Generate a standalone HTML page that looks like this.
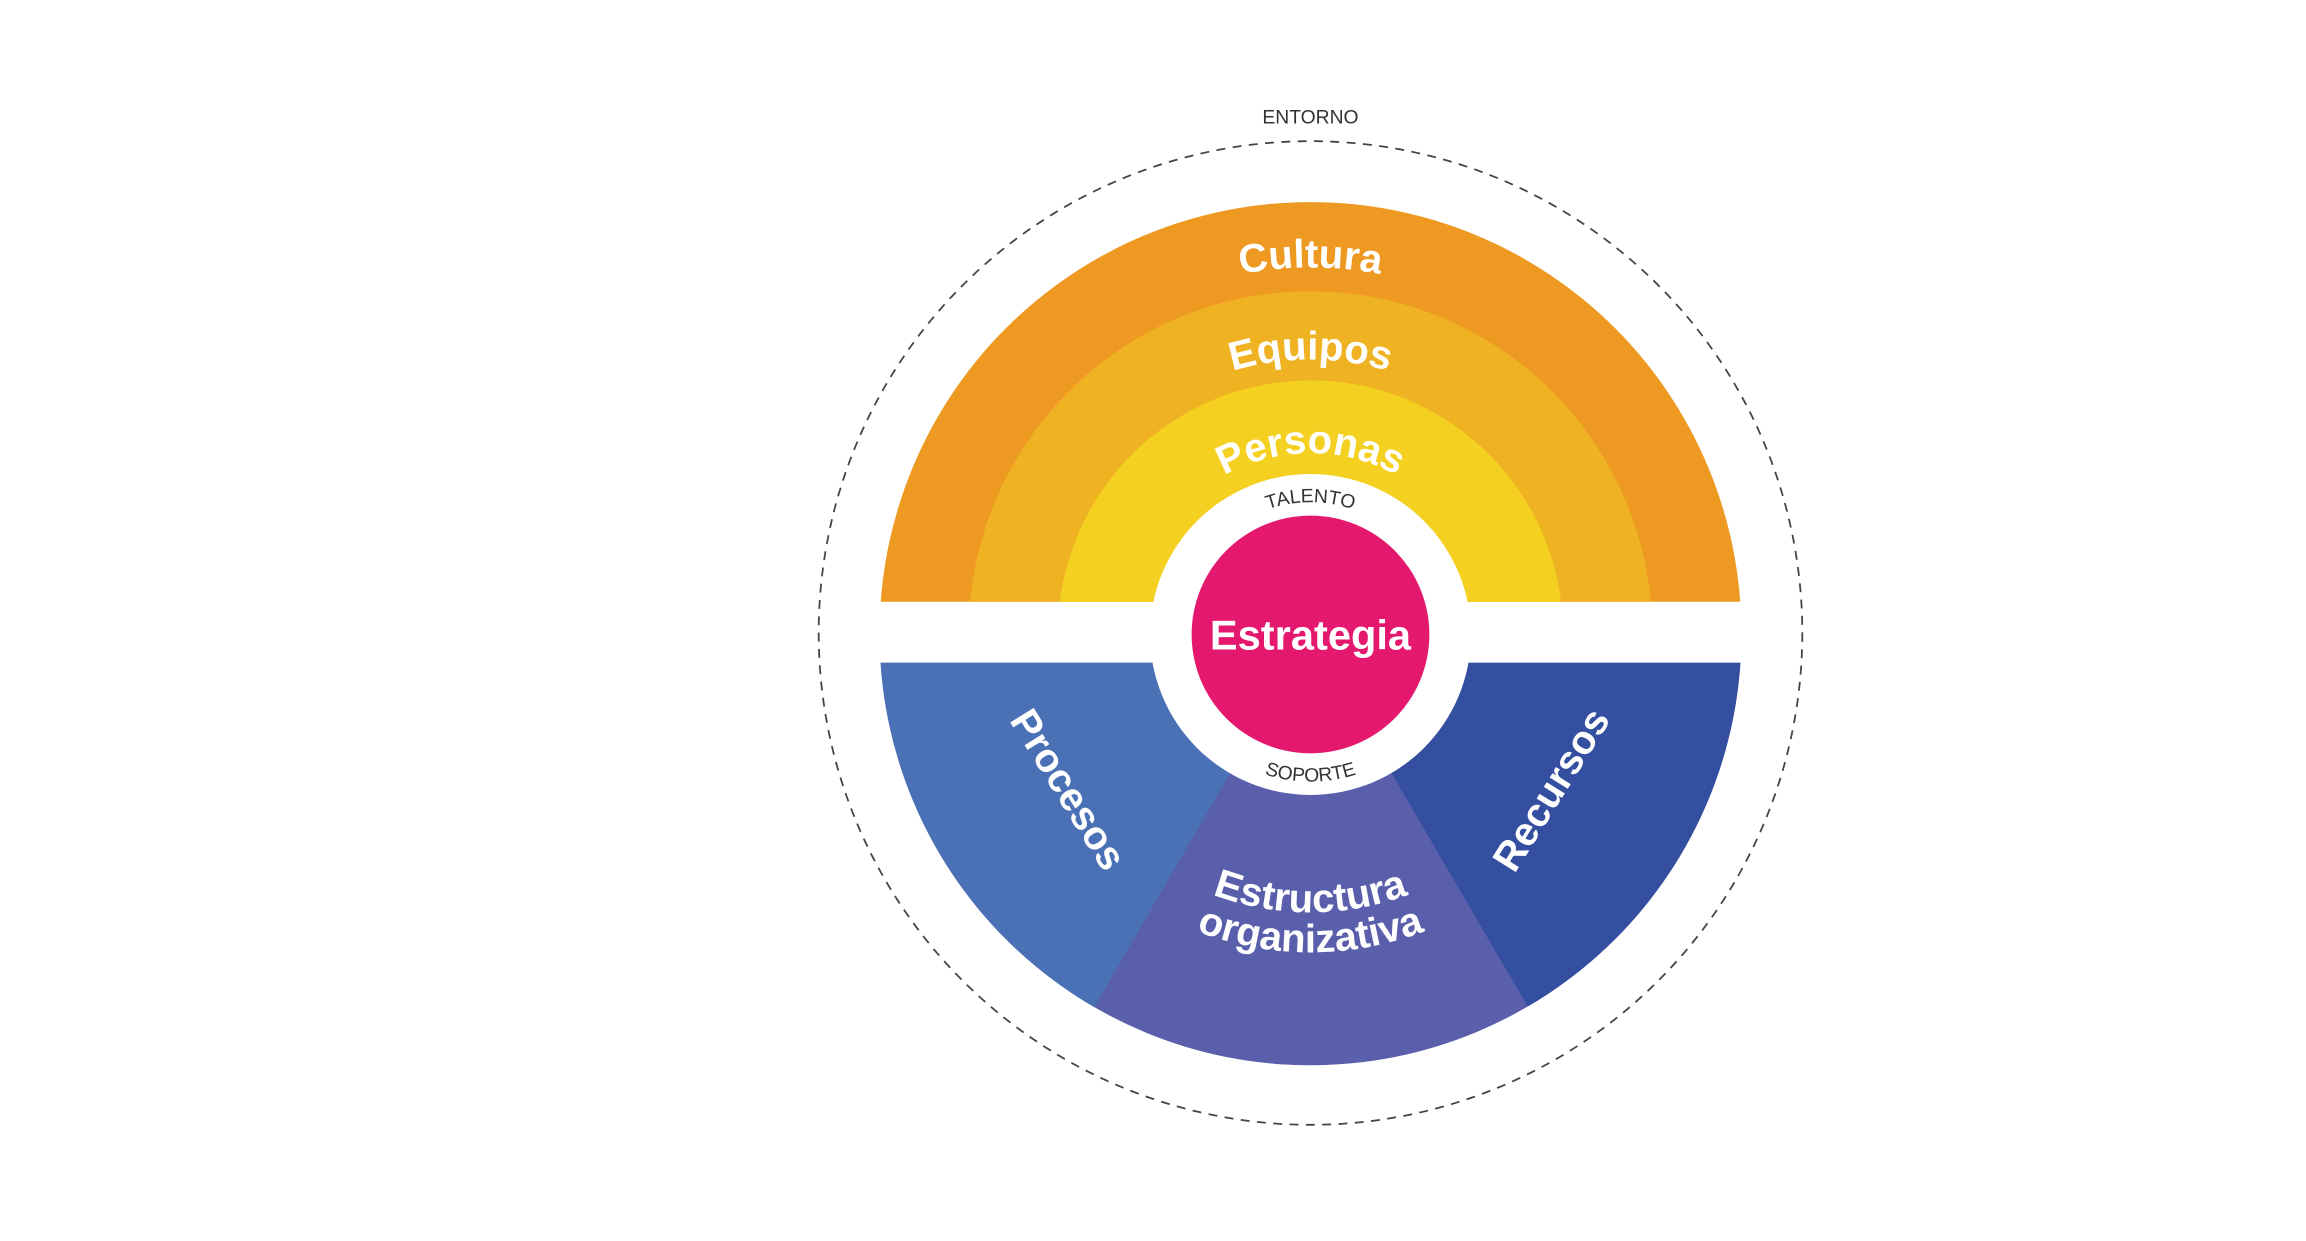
<!DOCTYPE html>
<html><head><meta charset="utf-8"><style>
html,body{margin:0;padding:0;background:#fff;overflow:hidden;}
svg{display:block;}
text{font-family:"Liberation Sans",sans-serif;}
</style></head><body>
<svg width="2306" height="1241" viewBox="0 0 1552 835.2" preserveAspectRatio="none" xmlns="http://www.w3.org/2000/svg">
<defs>
<clipPath id="top"><rect x="0" y="0" width="1552" height="405"/></clipPath>
<clipPath id="bot"><rect x="0" y="446" width="1552" height="400"/></clipPath>
<clipPath id="circ"><circle cx="882" cy="427" r="290"/></clipPath>
<path id="aC" d="M636,426 A246,246 0 0 1 1128,426"/>
<path id="aE" d="M698,426 A184,184 0 0 1 1066,426"/>
<path id="aP" d="M761,426 A121,121 0 0 1 1003,426"/>
<path id="aT" d="M794,426 A88,88 0 0 1 970,426"/>
<path id="aS" d="M782,426 A100,100 0 0 0 982,426"/>
<path id="aEs" d="M694,426 A188,188 0 0 0 1070,426"/>
<path id="aOr" d="M667,426 A215,215 0 0 0 1097,426"/>
</defs>
<rect width="1552" height="835.2" fill="#fff"/>
<circle cx="882" cy="426" r="331" fill="none" stroke="#444" stroke-width="1.2" stroke-dasharray="6,5"/>
<text x="882" y="83" font-size="13" fill="#333" text-anchor="middle">ENTORNO</text>
<g clip-path="url(#top)">
<circle cx="882" cy="426" r="290" fill="#ee9a22"/>
<circle cx="882" cy="426" r="230" fill="#efb223"/>
<circle cx="882" cy="426" r="170" fill="#f4d020"/>
</g>
<g clip-path="url(#bot)">
<g clip-path="url(#circ)">
<circle cx="882" cy="427" r="290" fill="#5a5fac"/>
<polygon points="882,427 592,927 0,927 0,427" fill="#4a70b5"/>
<polygon points="882,427 1174,927 1552,927 1552,427" fill="#354fa0"/>
</g>
</g>
<circle cx="882" cy="427" r="108" fill="#fff"/>
<circle cx="882" cy="427" r="80" fill="#e5186f"/>
<text x="882" y="437" font-size="28" font-weight="bold" fill="#fff" text-anchor="middle">Estrategia</text>
<g font-weight="bold" fill="#fff" font-size="27">
<text><textPath href="#aC" startOffset="50%" text-anchor="middle">Cultura</textPath></text>
<text><textPath href="#aE" startOffset="50%" text-anchor="middle">Equipos</textPath></text>
<text><textPath href="#aP" startOffset="50%" text-anchor="middle">Personas</textPath></text>
<text><textPath href="#aEs" startOffset="50%" text-anchor="middle">Estructura</textPath></text>
<text><textPath href="#aOr" startOffset="50%" text-anchor="middle">organizativa</textPath></text>
<text x="718" y="540" text-anchor="middle" transform="rotate(58 718 532)">Procesos</text>
<text x="1045" y="540" text-anchor="middle" transform="rotate(-58 1045 532)">Recursos</text>
</g>
<g font-size="13" fill="#333">
<text><textPath href="#aT" startOffset="50%" text-anchor="middle">TALENTO</textPath></text>
<text><textPath href="#aS" startOffset="50%" text-anchor="middle">SOPORTE</textPath></text>
</g>
</svg>
</body></html>
